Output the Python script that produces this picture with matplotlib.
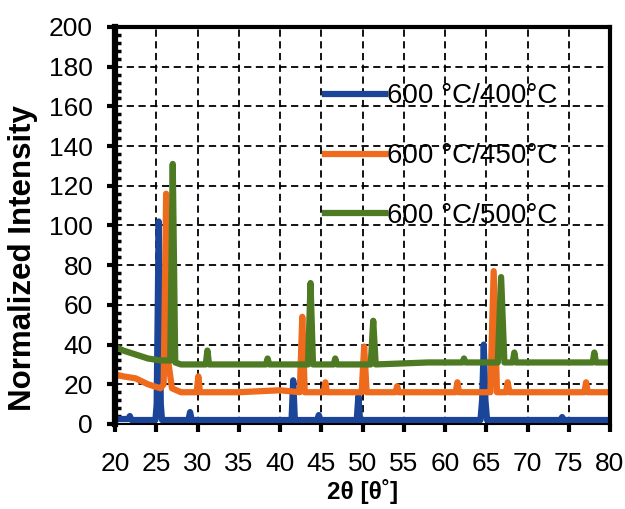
import matplotlib.pyplot as plt
from matplotlib.ticker import MultipleLocator

plt.rcParams['font.family'] = ['Liberation Sans', 'DejaVu Sans']

# XRD patterns, vertices (2theta, normalized intensity)
blue_x = [20, 21.6, 21.8, 22.0, 24.9, 25.05, 25.3, 25.55, 25.7, 28.9, 29.1, 29.3,
          41.4, 41.6, 41.8, 44.5, 44.7, 44.9, 49.3, 49.5, 49.7,
          64.3, 64.5, 64.7, 64.9, 65.1, 74, 74.2, 74.4, 80]
blue_y = [2.5, 2.5, 4, 2, 2, 10, 102, 10, 2, 2, 6, 2,
          2, 22, 2, 2, 4.5, 2, 2, 14, 2,
          2, 12, 40, 12, 2, 2, 3.5, 2, 2]

orange_x = [20, 21, 22.5, 24, 25.5, 25.9, 26.2, 26.5, 26.9, 28, 29.9, 30.1, 30.3,
            35, 40, 42.4, 42.7, 43.0, 45.3, 45.5, 45.7, 49.9, 50.2, 50.5,
            54.0, 54.2, 54.4, 61.3, 61.5, 61.7, 65.5, 65.9, 66.3, 67.4, 67.6, 67.8,
            76.9, 77.1, 77.3, 80]
orange_y = [25, 24, 23, 20, 18, 20, 116, 30, 18, 16, 16, 24, 16,
            16, 17, 16, 54, 16, 16, 21, 16, 16, 39, 16,
            16, 19, 16, 16, 21, 16, 16, 77, 16, 16, 21, 16,
            16, 21, 16, 16]

green_x = [20, 21, 22.5, 24, 25.5, 26.7, 27.0, 27.3, 28, 31.0, 31.2, 31.4,
           35, 38.3, 38.5, 38.7, 41, 43.4, 43.7, 44.0, 46.5, 46.7, 46.9,
           51.0, 51.3, 51.6, 58, 62.1, 62.3, 62.5, 66.4, 66.8, 67.2,
           68.2, 68.4, 68.6, 77.9, 78.1, 78.3, 80]
green_y = [39, 37, 35, 33, 32, 32, 131, 31, 30, 30, 37, 30,
           30, 30, 33, 30, 30, 30, 71, 30, 30, 33, 30,
           30, 52, 30, 31, 31, 33, 31, 31, 74, 31,
           31, 36, 31, 31, 36, 31, 31]

labels = ['600 °C/400°C', '600 °C/450°C', '600 °C/500°C']
colors = ['#1a4599', '#ee6a1c', '#4d7a22']

fig = plt.figure(figsize=(6.25, 5.09), dpi=100)
ax = fig.add_axes([0.184, 0.167, 0.792, 0.78])

for xs, ys, lab, c in zip([blue_x, orange_x, green_x], [blue_y, orange_y, green_y], labels, colors):
    ax.plot(xs, ys, color=c, lw=4.5, label=lab, solid_joinstyle='round')

ax.set_xlim(20, 80)
ax.set_ylim(0, 200)
ax.xaxis.set_major_locator(MultipleLocator(5))
ax.yaxis.set_major_locator(MultipleLocator(20))
ax.yaxis.set_minor_locator(MultipleLocator(4))

ax.grid(True, which='major', color='black', ls=(0, (4, 2.5)), lw=1.3)
ax.set_axisbelow(True)

ax.tick_params(axis='both', which='major', direction='out', length=6, width=3, labelsize=19, pad=7)
ax.tick_params(axis='y', which='minor', direction='in', length=4, width=2.5)
ax.tick_params(axis='y', pad=10)
ax.tick_params(axis='x', pad=14)
ax.spines['left'].set_linewidth(4.5)
ax.spines['top'].set_linewidth(3)
ax.spines['right'].set_linewidth(3)
ax.spines['bottom'].set_linewidth(1.5)

ax.set_ylabel('Normalized Intensity', fontsize=22.5, fontweight='bold')
ax.yaxis.set_label_coords(-0.156, 0.418)
ax.set_xlabel('2θ [θ˚]', fontsize=17.5, fontweight='bold', labelpad=2)

leg = ax.legend(loc='upper left', bbox_to_anchor=(0.424, 0.858), frameon=False,
                fontsize=20, handlelength=2.15, handletextpad=0.08, labelspacing=1.22,
                borderpad=0, borderaxespad=0)
for line in leg.get_lines():
    line.set_linewidth(4.5)

plt.savefig('out.png', dpi=100)
